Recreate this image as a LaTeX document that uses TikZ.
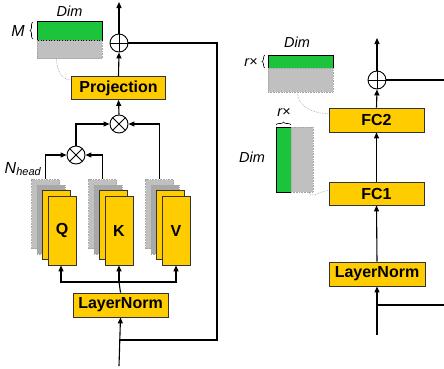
\documentclass[tikz,border=0pt]{standalone}
\usepackage{fontspec}
\setmainfont{Liberation Sans}
\usetikzlibrary{arrows.meta,decorations.pathreplacing}
\definecolor{yel}{HTML}{FFCC00}
\definecolor{grn}{HTML}{1BC43A}
\definecolor{gry}{HTML}{C0C0C0}
\definecolor{gry2}{HTML}{A8A8A8}
\tikzset{
  ybox/.style={draw=black!80, fill=yel, line width=0.8pt, inner sep=0pt,
    font=\bfseries\fontsize{16}{16}\selectfont},
  layer/.style={draw=black!80, fill=yel, line width=0.8pt, inner sep=0pt,
    minimum width=28pt, minimum height=69pt, font=\bfseries\fontsize{16}{16}\selectfont},
  glayer/.style={draw=gray!70, densely dotted, fill=gry, line width=0.6pt, inner sep=0pt,
    minimum width=28pt, minimum height=69pt},
  glayerd/.style={glayer, fill=gry2},
  arr/.style={-{Triangle[length=6pt,width=5pt]}, line width=1.1pt},
  ln/.style={line width=1.1pt},
  opc/.style={circle, draw, line width=0.9pt, minimum size=18pt, inner sep=0pt, fill=white},
  plusop/.style={opc, path picture={\draw[line width=0.8pt]
     (path picture bounding box.north) -- (path picture bounding box.south)
     (path picture bounding box.west) -- (path picture bounding box.east);}},
  timesop/.style={opc, path picture={\draw[line width=0.8pt]
     (path picture bounding box.north west) -- (path picture bounding box.south east)
     (path picture bounding box.north east) -- (path picture bounding box.south west);}},
  memg/.style={draw=black, fill=grn, line width=0.8pt, inner sep=0pt},
  memgr/.style={draw=gray!70, densely dotted, fill=gry, line width=0.6pt, inner sep=0pt},
  lbl/.style={font=\itshape\fontsize{14.5}{14.5}\selectfont, inner sep=0pt},
  dcurve/.style={densely dotted, gray!80, line width=0.6pt},
  brc/.style={decorate, decoration={brace, amplitude=3pt}, line width=0.6pt},
}
\begin{document}
\begin{tikzpicture}[x=1pt,y=-1pt]
\useasboundingbox (0,0) rectangle (444,368);

% ================= LEFT =================
\node[plusop] (plusL) at (119,43) {};
\node[ybox, minimum width=94pt, minimum height=23pt] (proj) at (118.5,88) {Projection};
\node[timesop] (timesT) at (119,124) {};
\node[timesop] (timesL) at (76,155) {};
\node[ybox, minimum width=95pt, minimum height=24pt] (lnL) at (120.5,305) {LayerNorm};

% stacks
\foreach \n/\cx in {Q/62,K/119,V/176}{
  \node[glayer]  (\n g1) at (\cx-16.5,214) {};
  \node[glayerd] (\n g2) at (\cx-11,219.5) {};
  \node[layer]   (\n y1) at (\cx-5.5,225) {};
  \node[layer]   (\n)    at (\cx,230.5) {\n};
}

\coordinate (topL) at (119,2);
\coordinate (inL) at (119,366);
\coordinate (jL) at (119,340);
\coordinate (rL) at (217,340);
\coordinate (splitL) at (119,282);

\draw[arr] (plusL.north) -- (topL);
\draw[arr] (proj.north) -- (plusL.south);
\draw[arr] (timesT.north) -- (proj.south);
\draw[arr] (timesL.north) |- (timesT.west);
\draw[arr] (Vg1.north) |- (timesT.east);
\draw[arr] (Qg1.north) |- (timesL.west);
\draw[arr] (Kg1.north) |- (timesL.east);
\draw[arr] (inL) -- (lnL.south);
\draw[ln] (jL) -- (rL) |- (plusL.east);
\draw[ln] (lnL.north) -- (splitL);
\draw[arr] (splitL) -| ([xshift=-1pt]Q.south);
\draw[arr] (splitL) -- (K.south -| splitL);
\draw[arr] (splitL) -| (V.south);

\node[font=\itshape\fontsize{16}{16}\selectfont, inner sep=0pt] (nhead) at (23,169) {N\textsubscript{\fontsize{11}{11}\selectfont head}};

% memory left
\node[memg, minimum width=65pt, minimum height=19pt] (memL) at (69.5,30.5) {};
\node[memgr, minimum width=65pt, minimum height=18pt] (memLg) at (69.5,49.5) {};
\node[lbl] (dimL) at (69.5,11) {Dim};
\node[font=\itshape\fontsize{16}{16}\selectfont, inner sep=0pt] (mL) at (18,30.5) {M};
\draw[brc] (33,39) -- (33,22);
\draw[dcurve] ([xshift=-13pt]memLg.south) to[out=-90,in=180] ([yshift=-4pt]proj.north west);

% ================= RIGHT =================
\node[plusop] (plusR) at (377,80) {};
\node[ybox, minimum width=95pt, minimum height=24pt] (fc2) at (376.5,120) {FC2};
\node[ybox, minimum width=95pt, minimum height=23pt] (fc1) at (376.5,193.5) {FC1};
\node[ybox, minimum width=96pt, minimum height=24pt] (lnR) at (377,274) {LayerNorm};

\coordinate (topR) at (377,38);
\coordinate (outR) at (444,80);
\coordinate (inR) at (377,335);
\coordinate (jR) at (377,305);
\coordinate (rR) at (444,305);

\draw[arr] (plusR.north) -- (topR);
\draw[ln] (plusR.east) -- (outR);
\draw[arr] (fc2.north) -- (plusR.south);
\draw[arr] (fc1.north) -- (fc2.south);
\draw[arr] (lnR.north) -- (fc1.south);
\draw[arr] (inR) -- (lnR.south);
\draw[ln] (jR) -- (rR);

% memory right top
\node[memg, minimum width=65pt, minimum height=13pt] (memR) at (300.5,61.5) {};
\node[memgr, minimum width=65pt, minimum height=24pt] (memRg) at (300.5,80) {};
\node[lbl] (dimR) at (297,42) {Dim};
\node[lbl] (rxR) at (251,62) {r×};
\draw[brc] (265,68) -- (265,55);
\draw[dcurve] ([xshift=-3pt]memRg.south) to[out=-90,in=180] ([yshift=-6pt]fc2.north west);

% memory right vertical
\node[memg, minimum width=15pt, minimum height=65pt] (memV) at (283.5,159.5) {};
\node[memgr, minimum width=22pt, minimum height=65pt] (memVg) at (302,159.5) {};
\node[lbl] (rxV) at (284,112) {r×};
\draw[brc] (276,125) -- (291,125);
\node[lbl] (dimV) at (252,157) {Dim};
\draw[dcurve] ([xshift=-5pt]memVg.south east) to[out=-60,in=180] ([yshift=3pt]fc1.west);
\end{tikzpicture}
\end{document}
